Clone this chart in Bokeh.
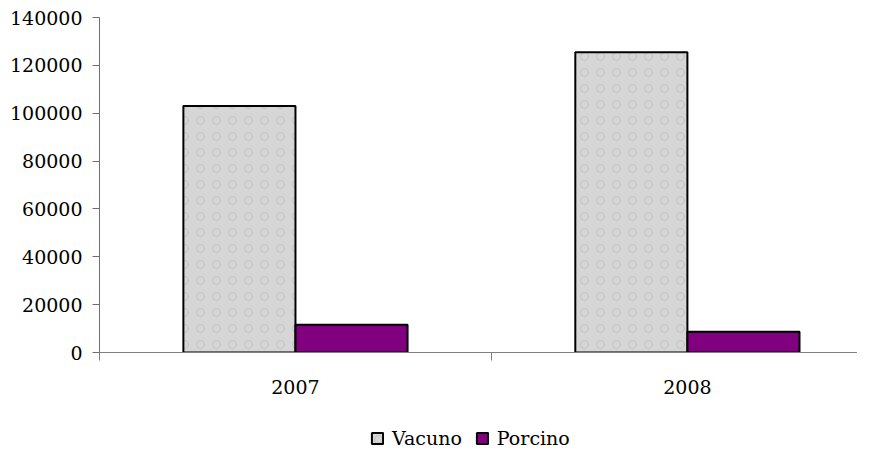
from bokeh.plotting import figure
from bokeh.layouts import column
from bokeh.models import Range1d, FixedTicker, Legend, LegendItem, ColumnDataSource, NumeralTickFormatter
from bokeh.transform import dodge
from bokeh.embed import file_html
from bokeh.resources import INLINE

years = ["2007", "2008"]
vacuno = [103000, 125500]
porcino = [11600, 8700]
y_ticks = [0, 20000, 40000, 60000, 80000, 100000, 120000, 140000]

idx = [i + 0.5 for i in range(len(years))]
bounds = [float(i) for i in range(len(years) + 1)]
src = ColumnDataSource(dict(x=idx, vacuno=vacuno, porcino=porcino))

FONT = "DejaVu Serif"
FS = "19px"

VAC = dict(fill_color="#d6d6d6", line_color="black", line_width=2,
           hatch_pattern="ring", hatch_color="#a8a8a8", hatch_alpha=0.45,
           hatch_scale=16, hatch_weight=1)
POR = dict(fill_color="#800080", line_color="black", line_width=2)

p = figure(width=857, height=415, output_backend="svg", toolbar_location=None,
           x_range=Range1d(0, 1.934), y_range=Range1d(0, 140000))
p.min_border_left = 99
p.min_border_top = 17
p.min_border_right = 0
p.min_border_bottom = 63
p.outline_line_color = None
p.grid.visible = False

bw = 0.286
r1 = p.vbar(x=dodge("x", -bw / 2, range=p.x_range), top="vacuno", width=bw, source=src, **VAC)
r2 = p.vbar(x=dodge("x", bw / 2, range=p.x_range), top="porcino", width=bw, source=src, **POR)

yax = p.yaxis[0]
yax.ticker = FixedTicker(ticks=y_ticks)
yax.formatter = NumeralTickFormatter(format="0")
yax.major_tick_out = 7
yax.major_tick_in = 0
yax.minor_tick_out = 0
yax.minor_tick_in = 0
yax.major_label_standoff = 10
yax.axis_line_color = "#6f6f6f"
yax.major_tick_line_color = "#6f6f6f"
yax.major_label_text_font = FONT
yax.major_label_text_font_size = FS
yax.major_label_text_color = "black"

xax = p.xaxis[0]
xax.ticker = FixedTicker(ticks=idx, minor_ticks=bounds)
xax.major_label_overrides = {v: y for v, y in zip(idx, years)}
xax.major_tick_out = 0
xax.major_tick_in = 0
xax.minor_tick_out = 8
xax.minor_tick_in = 0
xax.minor_tick_line_color = "#808080"
xax.axis_line_color = "#808080"
xax.major_label_standoff = 19
xax.major_label_text_font = FONT
xax.major_label_text_font_size = FS
xax.major_label_text_color = "black"

# legend strip: hidden renderers that carry the same styles
q = figure(width=857, height=34, output_backend="svg", toolbar_location=None,
           x_range=Range1d(50, 51), y_range=Range1d(-2e6, -1e6),
           x_axis_location=None, y_axis_location=None)
q.min_border_left = 0
q.min_border_right = 0
q.min_border_top = 0
q.min_border_bottom = 0
q.outline_line_color = None
q.grid.visible = False
l1 = q.vbar(x="x", top="vacuno", width=0.1, source=src, visible=False, **VAC)
l2 = q.vbar(x="x", top="porcino", width=0.1, source=src, visible=False, **POR)

legend = Legend(items=[LegendItem(label="Vacuno", renderers=[l1], index=0),
                       LegendItem(label="Porcino", renderers=[l2], index=0)],
                orientation="horizontal", location=(271, 0), click_policy="none")
legend.border_line_alpha = 0
legend.background_fill_alpha = 0
legend.label_text_font = FONT
legend.label_text_font_size = FS
legend.label_text_color = "black"
legend.glyph_width = 14
legend.glyph_height = 14
legend.label_standoff = 8
legend.spacing = 13
legend.padding = 0
legend.margin = 0
q.add_layout(legend, "center")

layout = column(p, q, spacing=0)
open("out.html", "w").write(file_html(layout, INLINE))
